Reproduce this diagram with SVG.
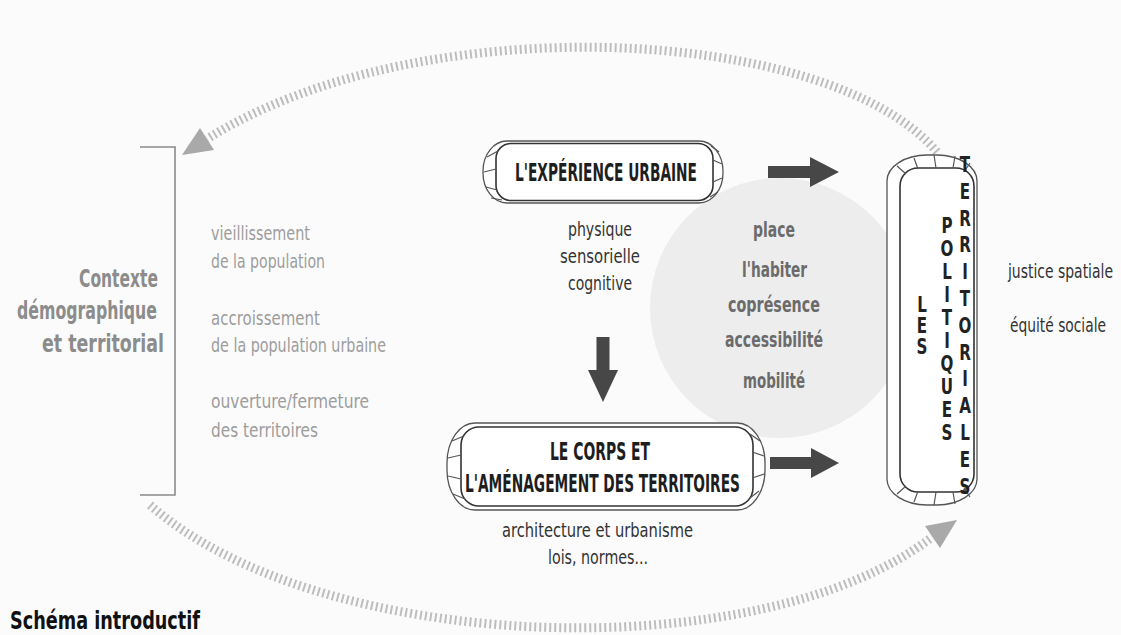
<svg xmlns="http://www.w3.org/2000/svg" width="1121" height="635" viewBox="0 0 1121 635">
<defs>
<style>
.t{font-family:"Liberation Sans Narrow","DejaVu Sans Condensed","Liberation Sans",sans-serif}
.title{font-size:24px;font-weight:bold;fill:#1e1e1e}
.sub{font-size:20px;fill:#333}
.grey{font-size:20px;fill:#9d9d9d}
.ctx{font-size:25px;font-weight:bold;fill:#8c8c8c}
.circ{font-size:22px;font-weight:bold;fill:#6b6b6b}
.vert{font-size:21px;font-weight:bold;fill:#222;text-anchor:middle}
.cap{font-size:25px;font-weight:bold;fill:#111}
.outer{fill:#fff;stroke:#555;stroke-width:1.3}
.inner{fill:#fff;stroke:#333;stroke-width:1.6}
.hatch{stroke:#555;stroke-width:1.2;fill:none}
.loop{fill:none;stroke:#bdbdbd;stroke-width:9;stroke-dasharray:2 3}
.loophead{fill:#a9a9a9}
.big{fill:#474747}
.bracket{fill:none;stroke:#8a8a8a;stroke-width:1.6}
</style>
</defs>
<rect x="0" y="0" width="1121" height="635" fill="#fbfbfb"/>

<g id="context">
<path class="bracket" d="M140 147 H175 V495 H140"/>
<text class="t ctx" x="79" y="287" textLength="79" lengthAdjust="spacingAndGlyphs">Contexte</text>
<text class="t ctx" x="17" y="319" textLength="140" lengthAdjust="spacingAndGlyphs">démographique</text>
<text class="t ctx" x="42" y="352" textLength="122" lengthAdjust="spacingAndGlyphs">et territorial</text>
<text class="t grey" x="211" y="240" textLength="99" lengthAdjust="spacingAndGlyphs">vieillissement</text>
<text class="t grey" x="211" y="268" textLength="114" lengthAdjust="spacingAndGlyphs">de la population</text>
<text class="t grey" x="211" y="325" textLength="109" lengthAdjust="spacingAndGlyphs">accroissement</text>
<text class="t grey" x="211" y="352" textLength="175" lengthAdjust="spacingAndGlyphs">de la population urbaine</text>
<text class="t grey" x="211" y="408" textLength="158" lengthAdjust="spacingAndGlyphs">ouverture/fermeture</text>
<text class="t grey" x="211" y="437" textLength="107" lengthAdjust="spacingAndGlyphs">des territoires</text>
</g>

<g id="themes">
<circle cx="780" cy="308" r="130" fill="#ededed"/>
<text class="t circ" x="753" y="237" textLength="42" lengthAdjust="spacingAndGlyphs">place</text>
<text class="t circ" x="742" y="277" textLength="65" lengthAdjust="spacingAndGlyphs">l'habiter</text>
<text class="t circ" x="728" y="312" textLength="92" lengthAdjust="spacingAndGlyphs">coprésence</text>
<text class="t circ" x="725" y="347" textLength="98" lengthAdjust="spacingAndGlyphs">accessibilité</text>
<text class="t circ" x="743" y="388" textLength="62" lengthAdjust="spacingAndGlyphs">mobilité</text>
</g>

<g id="connectors">
<path class="loop" d="M937 152 C830 25, 420 5, 207 139"/>
<polygon class="loophead" points="182,155 214,150 200,128"/>
<path class="loop" d="M150 505 C320 655, 760 670, 932 537"/>
<polygon class="loophead" points="957,520 940,548 925,526"/>
<polygon class="big" points="768,166 810,166 810,157 839,172 810,187 810,178 768,178"/>
<polygon class="big" points="770,457 811,457 811,448 839,463 811,478 811,469 770,469"/>
<polygon class="big" points="596.5,337 609.5,337 609.5,370 618,370 603,402 588,370 596.5,370"/>
</g>

<g id="experience">
<rect class="outer" x="483" y="141" width="240" height="62" rx="24" ry="30"/>
<rect class="inner" x="496" y="143.5" width="217" height="57" rx="15"/>
<path class="hatch" d="M487 157 L498 151 M484 172 L496 169 M486 187 L497 190 M491 198 L502 200 M711 146 L719 152 M713 160 L722 164 M713 182 L722 178 M710 197 L718 192"/>
<text class="t title" x="515" y="181" textLength="182" lengthAdjust="spacingAndGlyphs">L'EXPÉRIENCE URBAINE</text>
<text class="t sub" x="568" y="236" textLength="64" lengthAdjust="spacingAndGlyphs">physique</text>
<text class="t sub" x="560" y="263" textLength="80" lengthAdjust="spacingAndGlyphs">sensorielle</text>
<text class="t sub" x="568" y="290" textLength="64" lengthAdjust="spacingAndGlyphs">cognitive</text>
</g>

<g id="corps">
<rect class="outer" x="447" y="423" width="318" height="87" rx="28" ry="40"/>
<rect class="inner" x="461" y="427" width="292" height="79" rx="18"/>
<path class="hatch" d="M452 441 L464 436 M448 458 L461 455 M448 476 L461 479 M453 494 L465 499 M750 434 L760 441 M752 452 L764 456 M752 478 L764 474 M750 498 L759 491"/>
<text class="t title" x="550" y="460" font-size="25" textLength="100" lengthAdjust="spacingAndGlyphs">LE CORPS ET</text>
<text class="t title" x="465" y="492" font-size="25" textLength="275" lengthAdjust="spacingAndGlyphs">L'AMÉNAGEMENT DES TERRITOIRES</text>
<text class="t sub" x="502" y="537" textLength="191" lengthAdjust="spacingAndGlyphs">architecture et urbanisme</text>
<text class="t sub" x="548" y="564" textLength="100" lengthAdjust="spacingAndGlyphs">lois, normes...</text>
</g>

<g id="politiques">
<rect class="outer" x="887" y="155" width="90" height="350" rx="40" ry="26"/>
<rect class="inner" x="900" y="168" width="74" height="324" rx="18"/>
<path class="hatch" d="M897 166 L906 174 M914 158 L918 169 M934 155 L936 168 M955 156 L953 168 M970 163 L964 172 M897 494 L906 486 M914 502 L918 491 M934 505 L936 492 M955 504 L953 492 M970 497 L964 488"/>
<text class="t vert" transform="translate(922 0) scale(0.8 1)" y="312"><tspan x="0">L</tspan><tspan x="0" dy="21">E</tspan><tspan x="0" dy="21">S</tspan></text>
<text class="t vert" transform="translate(947 0) scale(0.8 1)" y="233"><tspan x="0">P</tspan><tspan x="0" dy="23">O</tspan><tspan x="0" dy="23">L</tspan><tspan x="0" dy="23">I</tspan><tspan x="0" dy="23">T</tspan><tspan x="0" dy="23">I</tspan><tspan x="0" dy="23">Q</tspan><tspan x="0" dy="23">U</tspan><tspan x="0" dy="23">E</tspan><tspan x="0" dy="23">S</tspan></text>
<text class="t vert" transform="translate(965 0) scale(0.8 1)" y="172"><tspan x="0">T</tspan><tspan x="0" dy="26.8">E</tspan><tspan x="0" dy="26.8">R</tspan><tspan x="0" dy="26.8">R</tspan><tspan x="0" dy="26.8">I</tspan><tspan x="0" dy="26.8">T</tspan><tspan x="0" dy="26.8">O</tspan><tspan x="0" dy="26.8">R</tspan><tspan x="0" dy="26.8">I</tspan><tspan x="0" dy="26.8">A</tspan><tspan x="0" dy="26.8">L</tspan><tspan x="0" dy="26.8">E</tspan><tspan x="0" dy="26.8">S</tspan></text>
<text class="t sub" x="1008" y="278" fill="#444" textLength="105" lengthAdjust="spacingAndGlyphs">justice spatiale</text>
<text class="t sub" x="1010" y="332" fill="#444" textLength="96" lengthAdjust="spacingAndGlyphs">équité sociale</text>
</g>

<text class="t cap" x="10" y="629" textLength="190" lengthAdjust="spacingAndGlyphs">Schéma introductif</text>
</svg>
